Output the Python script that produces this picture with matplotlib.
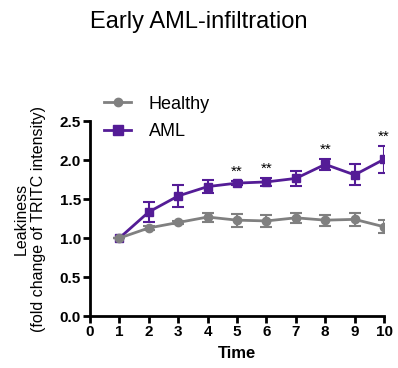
import matplotlib
matplotlib.use("Agg")
import matplotlib.pyplot as plt
from matplotlib.lines import Line2D

time = [1, 2, 3, 4, 5, 6, 7, 8, 9, 10]
healthy = [1.0, 1.13, 1.20, 1.27, 1.23, 1.22, 1.26, 1.23, 1.24, 1.145]
healthy_err = [0.0, 0.02, 0.02, 0.058, 0.085, 0.075, 0.064, 0.07, 0.08, 0.085]
aml = [1.0, 1.335, 1.54, 1.66, 1.705, 1.72, 1.765, 1.945, 1.81, 2.01]
aml_err = [0.0, 0.128, 0.143, 0.08, 0.03, 0.053, 0.10, 0.07, 0.135, 0.17]
sig_times = [5, 6, 8, 10]
sig_label = "**"
xticks = [0, 1, 2, 3, 4, 5, 6, 7, 8, 9, 10]
yticks = [0.0, 0.5, 1.0, 1.5, 2.0, 2.5]

plt.rcParams['font.family'] = ['Liberation Sans', 'DejaVu Sans']
fig = plt.figure(figsize=(3.98, 3.68), dpi=100)
ax = fig.add_axes([0.226, 0.141, 0.739, 0.530])

grey = '#808080'
purple = '#541C96'
ax.errorbar(time, healthy, yerr=healthy_err, color=grey, marker='o', markersize=6,
            lw=2, capsize=4, elinewidth=1.5, capthick=1.5, zorder=2)
ax.errorbar(time, aml, yerr=aml_err, color=purple, marker='s', markersize=6,
            lw=2, capsize=4, elinewidth=1.5, capthick=1.5, zorder=1)

for t in sig_times:
    i = time.index(t)
    ax.text(t, aml[i] + aml_err[i] + 0.03, sig_label, ha='center', va='bottom', fontsize=11)

ax.set_xlim(0, 10)
ax.set_ylim(0, 2.5)
ax.set_xticks(xticks)
ax.set_yticks(yticks)
ax.set_yticklabels([f"{v:.1f}" for v in yticks])
for lab in ax.get_xticklabels() + ax.get_yticklabels():
    lab.set_fontweight('bold')
ax.tick_params(axis='both', width=2, length=5, labelsize=11, pad=1.5)
for s in ['top', 'right']:
    ax.spines[s].set_visible(False)
for s in ['left', 'bottom']:
    ax.spines[s].set_linewidth(2)

ax.set_xlabel('Time', fontweight='bold', fontsize=12, labelpad=5)
ax.set_ylabel('Leakiness\n(fold change of TRITC intensity)', fontsize=11.5, labelpad=10)
fig.text(0.5, 0.94, 'Early AML-infiltration', ha='center', va='center', fontsize=17)

handles = [Line2D([], [], color=grey, marker='o', markersize=6, lw=2),
           Line2D([], [], color=purple, marker='s', markersize=7, lw=2)]
fig.legend(handles, ['Healthy', 'AML'], loc='upper left', bbox_to_anchor=(0.244, 0.76),
           frameon=False, fontsize=13, handlelength=1.5, handletextpad=0.95,
           labelspacing=0.6, borderaxespad=0)

fig.savefig('out.png', dpi=100)
